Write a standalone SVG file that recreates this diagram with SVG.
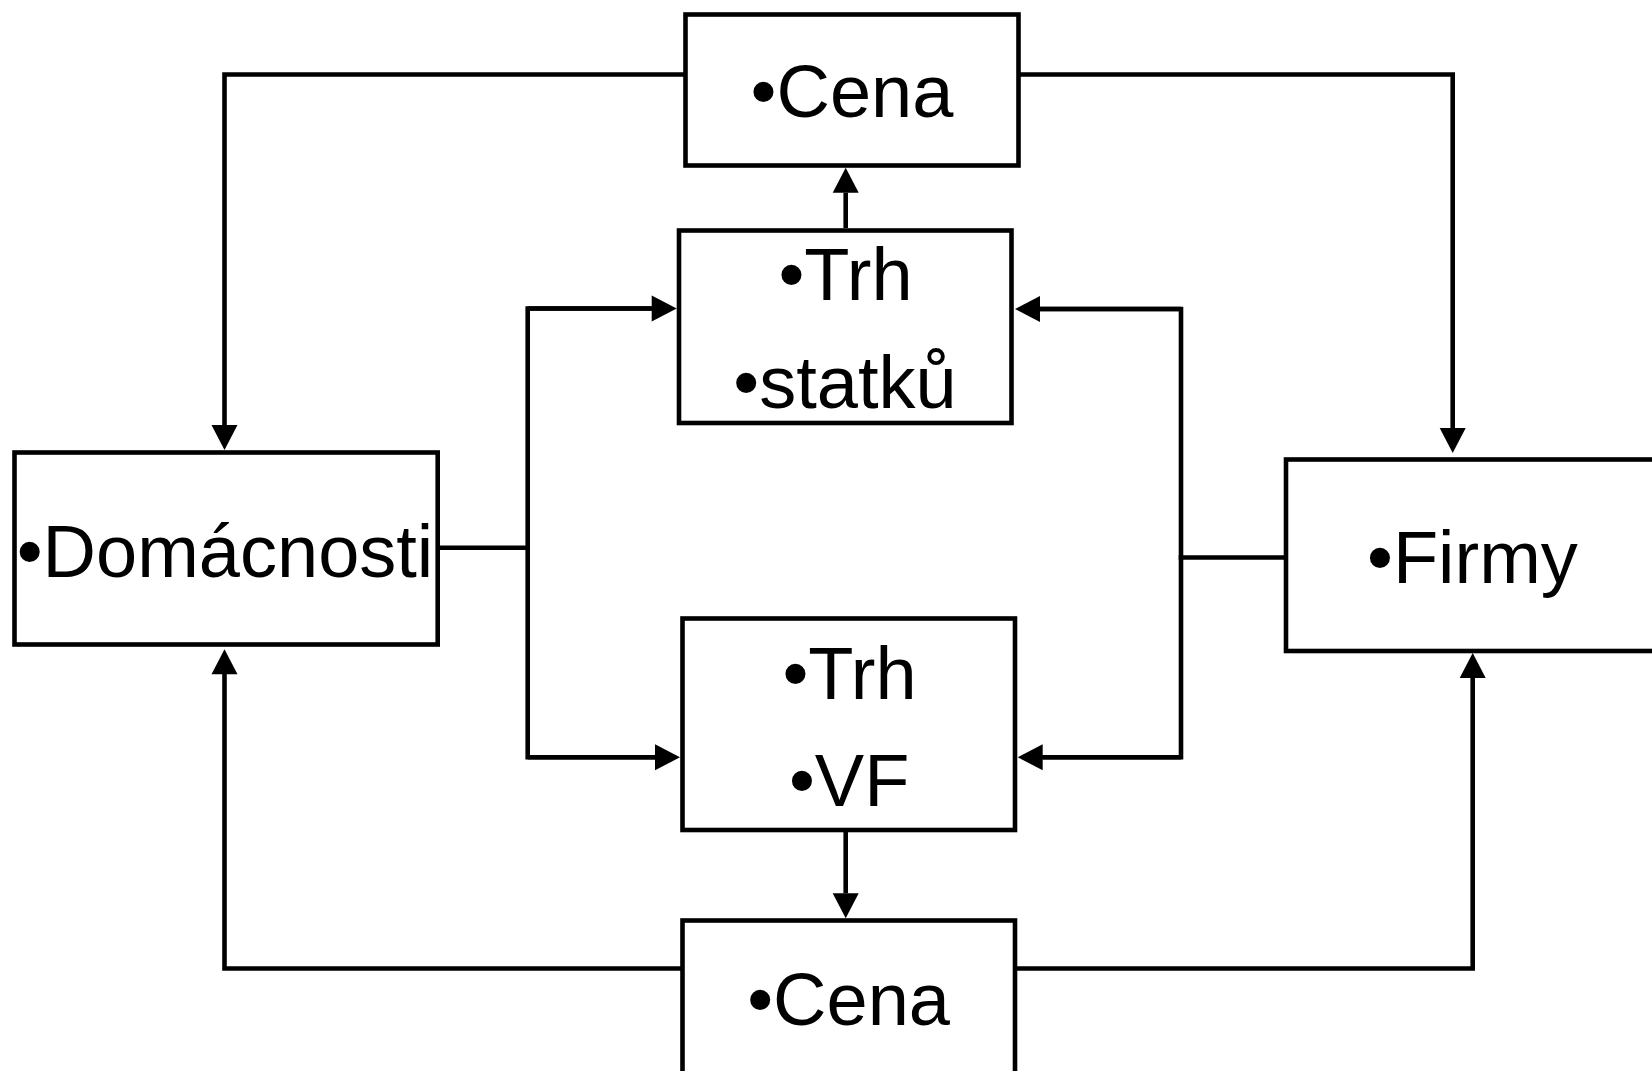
<svg xmlns="http://www.w3.org/2000/svg" width="1652" height="1071" viewBox="0 0 1652 1071">
  <style>
    .box { fill: #ffffff; stroke: #000000; stroke-width: 4.6; }
    .lbl { font-family: "Liberation Sans", Arial, sans-serif; font-size: 74px; fill: #000000; text-anchor: middle; }
    .conn { fill: none; stroke: #000000; stroke-width: 4.6; stroke-linejoin: miter; stroke-linecap: square; }
    .arr { marker-end: url(#ah); }
  </style>
  <defs>
    <marker id="ah" markerUnits="userSpaceOnUse" markerWidth="26" markerHeight="26" refX="0" refY="13" orient="auto" overflow="visible">
      <path d="M0,0 L25,13 L0,26 Z" fill="#000000"/>
    </marker>
  </defs>
  <rect width="1652" height="1071" fill="#ffffff"/>

  <g id="connectors">
    <!-- top Cena -> Domacnosti -->
    <path class="conn arr" d="M685,74.5 L224.5,74.5 L224.5,425"/>
    <!-- top Cena -> Firmy -->
    <path class="conn arr" d="M1018.5,74.5 L1452.7,74.5 L1452.7,428"/>
    <!-- Trh statku -> top Cena -->
    <path class="conn arr" d="M845.7,228 L845.7,192.7" style="stroke-linecap:butt"/>
    <!-- Domacnosti -> markets -->
    <path class="conn" d="M440,547.7 L527.7,547.7"/>
    <path class="conn" d="M651.7,308.5 L527.7,308.5 L527.7,757.3 L655,757.3"/>
    <path class="conn arr" d="M527.7,308.5 L651.7,308.5" style="stroke-linecap:butt"/>
    <path class="conn arr" d="M527.7,757.3 L655,757.3" style="stroke-linecap:butt"/>
    <!-- Firmy -> markets -->
    <path class="conn" d="M1284,557.5 L1181,557.5"/>
    <path class="conn" d="M1040,309 L1181,309 L1181,757.3 L1042,757.3"/>
    <path class="conn arr" d="M1181,309 L1040,309" style="stroke-linecap:butt"/>
    <path class="conn arr" d="M1181,757.3 L1042.7,757.3" style="stroke-linecap:butt"/>
    <!-- Trh VF -> bottom Cena -->
    <path class="conn arr" d="M845.7,832 L845.7,893.3" style="stroke-linecap:butt"/>
    <!-- bottom Cena -> Domacnosti -->
    <path class="conn arr" d="M680.5,968.5 L224.5,968.5 L224.5,674.3"/>
    <!-- bottom Cena -> Firmy -->
    <path class="conn arr" d="M1017,968.5 L1472.7,968.5 L1472.7,678"/>
  </g>

  <g id="cena-top">
    <rect class="box" x="685.5" y="14.5" width="333" height="151"/>
    <text class="lbl" x="852" y="117.3">•Cena</text>
  </g>

  <g id="trh-statku">
    <rect class="box" x="679" y="230.5" width="332.5" height="192.5"/>
    <text class="lbl" x="845.5" y="300">•Trh</text>
    <text class="lbl" x="845" y="408.3">•statků</text>
  </g>

  <g id="domacnosti">
    <rect class="box" x="14.5" y="452.5" width="423.2" height="192"/>
    <text class="lbl" x="225" y="576.7">•Domácnosti</text>
  </g>

  <g id="firmy">
    <rect class="box" x="1286" y="459.5" width="380" height="191.5"/>
    <text class="lbl" x="1472.4" y="583.3">•Firmy</text>
  </g>

  <g id="trh-vf">
    <rect class="box" x="682.5" y="618.5" width="332.5" height="211.5"/>
    <text class="lbl" x="849.5" y="699">•Trh</text>
    <text class="lbl" x="849.2" y="805.7">•VF</text>
  </g>

  <g id="cena-bottom">
    <rect class="box" x="682.5" y="920.5" width="332.5" height="170"/>
    <text class="lbl" x="848.6" y="1025">•Cena</text>
  </g>
</svg>
